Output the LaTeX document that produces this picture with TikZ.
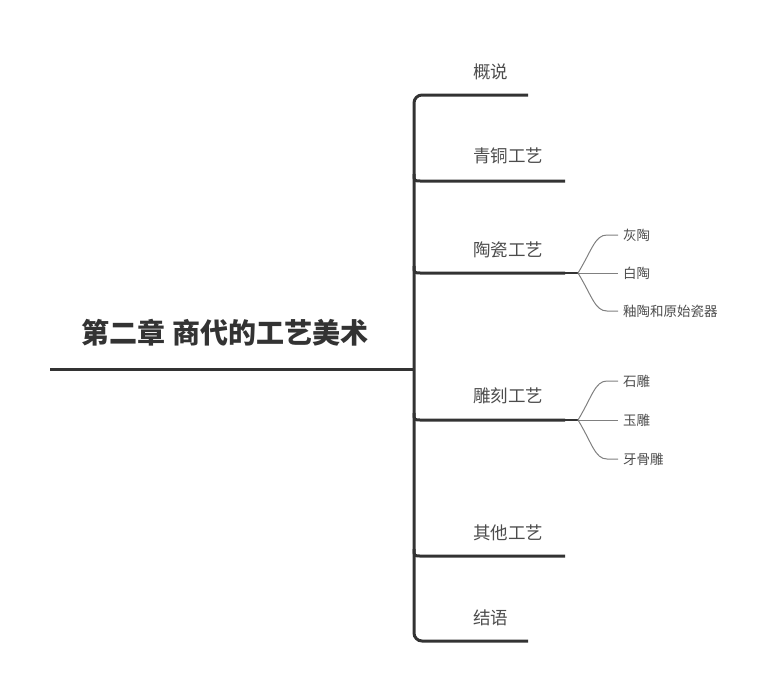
\documentclass[tikz,border=0pt]{standalone}
\usepackage{fontspec}
\newfontfamily\cjk{Noto Sans CJK SC}
\begin{document}
\begin{tikzpicture}[x=1pt,y=-1pt,
  roottext/.style={font=\cjk\bfseries\fontsize{28}{30}\selectfont, text=black!80, inner sep=0pt},
  brtext/.style={font=\cjk\fontsize{17.5}{20}\selectfont, text=black!70, anchor=west, inner sep=0pt},
  subtext/.style={font=\cjk\fontsize{13.5}{16}\selectfont, text=black!70, anchor=west, inner sep=0pt},
  mainline/.style={draw=black!80, line width=3pt, line cap=round},
  trunkline/.style={draw=black!80, line width=3pt, rounded corners=8pt},
  stemline/.style={draw=black!80, line width=1.5pt},
  subline/.style={draw=black!50, line width=1pt}
]
\path[use as bounding box] (0,0) rectangle (777,694);
% root
\node[roottext] (root) at (225,333) {第二章 商代的工艺美术};
\coordinate (rootL) at (50,369);
\coordinate (rootR) at (414,369);
\draw[mainline, line cap=butt] (rootL) -- (rootR);
% branch ends
\coordinate (e1) at (528,95);
\coordinate (e2) at (565,181);
\coordinate (e3) at (565,273);
\coordinate (e4) at (565,420);
\coordinate (e5) at (565,556);
\coordinate (e6) at (528,641);
% trunk
\draw[trunkline] (e1) -- (414,95) -- (414,641) -- (e6);
% middle branches
\foreach \n/\y in {e2/181,e3/273,e4/420,e5/556}{
  \draw[mainline, line cap=butt] (414,\y-7) .. controls (414,\y) .. (421,\y) -- (\n);
}
% branch texts
\node[brtext] (b1) at (473,72) {概说};
\node[brtext] (b2) at (473,156) {青铜工艺};
\node[brtext] (b3) at (473,250) {陶瓷工艺};
\node[brtext] (b4) at (473,396) {雕刻工艺};
\node[brtext] (b5) at (473,533) {其他工艺};
\node[brtext] (b6) at (473,618) {结语};
% sub branches of 陶瓷工艺
\coordinate (f3) at (578,273);
\draw[stemline] (e3) -- (f3);
\node[subtext] (s31) at (623,235) {灰陶};
\node[subtext] (s32) at (623,273) {白陶};
\node[subtext] (s33) at (623,311) {釉陶和原始瓷器};
\draw[subline] (f3) .. controls (592,250) and (595,235) .. (607,235) -- ([xshift=-5pt]s31.west);
\draw[subline] (f3) -- ([xshift=-5pt]s32.west);
\draw[subline] (f3) .. controls (592,296) and (595,311) .. (607,311) -- ([xshift=-5pt]s33.west);
% sub branches of 雕刻工艺
\coordinate (f4) at (578,420);
\draw[stemline] (e4) -- (f4);
\node[subtext] (s41) at (623,381) {石雕};
\node[subtext] (s42) at (623,420) {玉雕};
\node[subtext] (s43) at (623,459) {牙骨雕};
\draw[subline] (f4) .. controls (592,397) and (595,381) .. (607,381) -- ([xshift=-5pt]s41.west);
\draw[subline] (f4) -- ([xshift=-5pt]s42.west);
\draw[subline] (f4) .. controls (592,443) and (595,459) .. (607,459) -- ([xshift=-5pt]s43.west);
\end{tikzpicture}
\end{document}
